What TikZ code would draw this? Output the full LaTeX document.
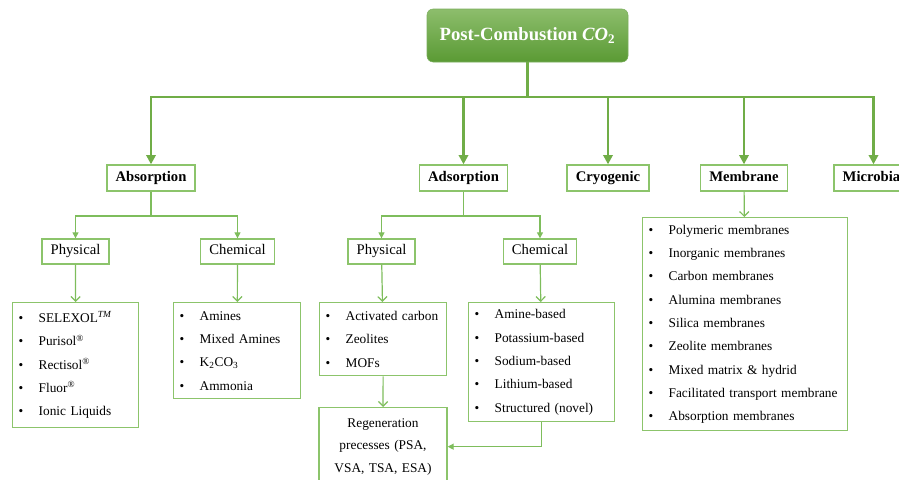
\documentclass[tikz,border=0pt]{standalone}
\usepackage{fontspec}
\setmainfont{Liberation Serif}
\usetikzlibrary{arrows.meta, positioning}
\definecolor{leaf}{HTML}{70AD47}
\definecolor{leafdark}{HTML}{5A9A34}
\definecolor{leaflight}{HTML}{7EBD5C}
\definecolor{rim}{HTML}{8CC46B}
\newcommand{\itm}{\makebox[15pt][l]{\textbullet}}

\begin{document}
\begin{tikzpicture}[x=0.75pt, y=-0.75pt,
	root/.style={rounded corners=4.5pt, top color=leaf!80!white, bottom color=leafdark, draw=leafdark!80, minimum width=150.75pt, minimum height=39.75pt, text=white, font=\fontsize{14}{16}\selectfont\bfseries},
	tech/.style={draw=rim, line width=1pt, inner xsep=6.5pt, text height=7.8pt, text depth=2.6pt, minimum height=19.5pt, font=\fontsize{11}{13}\selectfont\bfseries},
	kind/.style={draw=rim, line width=1pt, inner xsep=6.5pt, text height=7.8pt, text depth=2.6pt, minimum height=18.75pt, font=\fontsize{11}{13}\selectfont},
	items/.style={draw=rim, line width=1pt, anchor=north west, align=left, inner xsep=4.5pt, inner ysep=0pt, font=\fontsize{10}{17.5}\selectfont},
	trunk/.style={draw=leaf, line width=2.2pt},
	branch/.style={draw=leaflight, line width=0.9pt},
	tip/.style={-{Triangle[length=4.5pt, width=4.5pt]}},
	feed/.style={draw=leaflight, line width=0.9pt, -{Straight Barb[length=3.5pt, width=7pt]}}]
	\useasboundingbox (0,0) rectangle (899,479);
	\clip (0,0) rectangle (899,479);

	\node[root] (top) at (527.5,35.5) {Post-Combustion \textit{CO}\textsubscript{2}};

	\node[tech] (abs) at (151,178) {Absorption};
	\node[tech] (ads) at (463.5,178) {Adsorption};
	\node[tech] (cryo) at (608,178) {Cryogenic};
	\node[tech] (mem) at (744,178) {Membrane};
	\node[tech] (mic) at (873.5,178) {Microbial};

	\node[kind] (absP) at (75.5,251.5) {Physical};
	\node[kind] (absC) at (237.5,251.5) {Chemical};
	\node[kind] (adsP) at (381.5,251.5) {Physical};
	\node[kind] (adsC) at (540,251.5) {Chemical};

	\node[items, text width=85.5pt, minimum height=93.75pt] (absPl) at (12,302)
		{\itm SELEXOL\textsuperscript{\textit{TM}}\\ \itm Purisol\textsuperscript{\textregistered}\\ \itm Rectisol\textsuperscript{\textregistered}\\ \itm Fluor\textsuperscript{\textregistered}\\ \itm Ionic Liquids};
	\node[items, text width=86.25pt, minimum height=72pt] (absCl) at (173,302)
		{\itm Amines\\ \itm Mixed Amines\\ \itm K\textsubscript{2}CO\textsubscript{3}\\ \itm Ammonia};
	\node[items, text width=86.25pt, minimum height=54.75pt] (adsPl) at (319,302)
		{\itm Activated carbon\\ \itm Zeolites\\ \itm MOFs};
	\node[items, text width=100.5pt, minimum height=89.25pt] (adsCl) at (468,302)
		{\itm Amine-based\\ \itm Potassium-based\\ \itm Sodium-based\\ \itm Lithium-based\\ \itm Structured (novel)};
	\node[items, text width=144.75pt, minimum height=159.75pt] (meml) at (642,217)
		{\itm Polymeric membranes\\ \itm Inorganic membranes\\ \itm Carbon membranes\\ \itm Alumina membranes\\ \itm Silica membranes\\ \itm Zeolite membranes\\ \itm Mixed matrix \& hydrid\\ \itm Facilitated transport membrane\\ \itm Absorption membranes};
	\node[draw=rim, line width=1pt, anchor=north, align=center, text width=87pt, minimum height=58.5pt, inner xsep=4.5pt, font=\fontsize{10}{16.9}\selectfont] (regen) at (383,407)
		{Regeneration\\ precesses (PSA,\\ VSA, TSA, ESA)};

	\coordinate (hub) at (527.5,97);
	\coordinate (absj) at (151,216);
	\coordinate (adsj) at (463.5,216);

	\draw[trunk] (top) -- (hub);
	\foreach \n in {abs,ads,cryo,mem,mic}
		\draw[trunk, -{Triangle[length=7pt, width=7pt]}] (hub) -| (\n);

	\draw[branch] (abs) -- (absj);
	\draw[branch, tip] (absj) -| (absP);
	\draw[branch, tip] (absj) -| (absC);
	\draw[branch] (ads) -- (adsj);
	\draw[branch, tip] (adsj) -| (adsP);
	\draw[branch, tip] (adsj) -| (adsC);

	\draw[feed] (absP) -- (absPl);
	\draw[feed] (absC) -- (absCl);
	\draw[feed] (adsP) -- (adsPl);
	\draw[feed] (adsC) -- (adsCl);
	\draw[feed] (mem) -- (meml);
	\draw[feed] (adsPl) -- (regen);
	\draw[branch, tip] (adsCl) |- (regen);
\end{tikzpicture}
\end{document}
